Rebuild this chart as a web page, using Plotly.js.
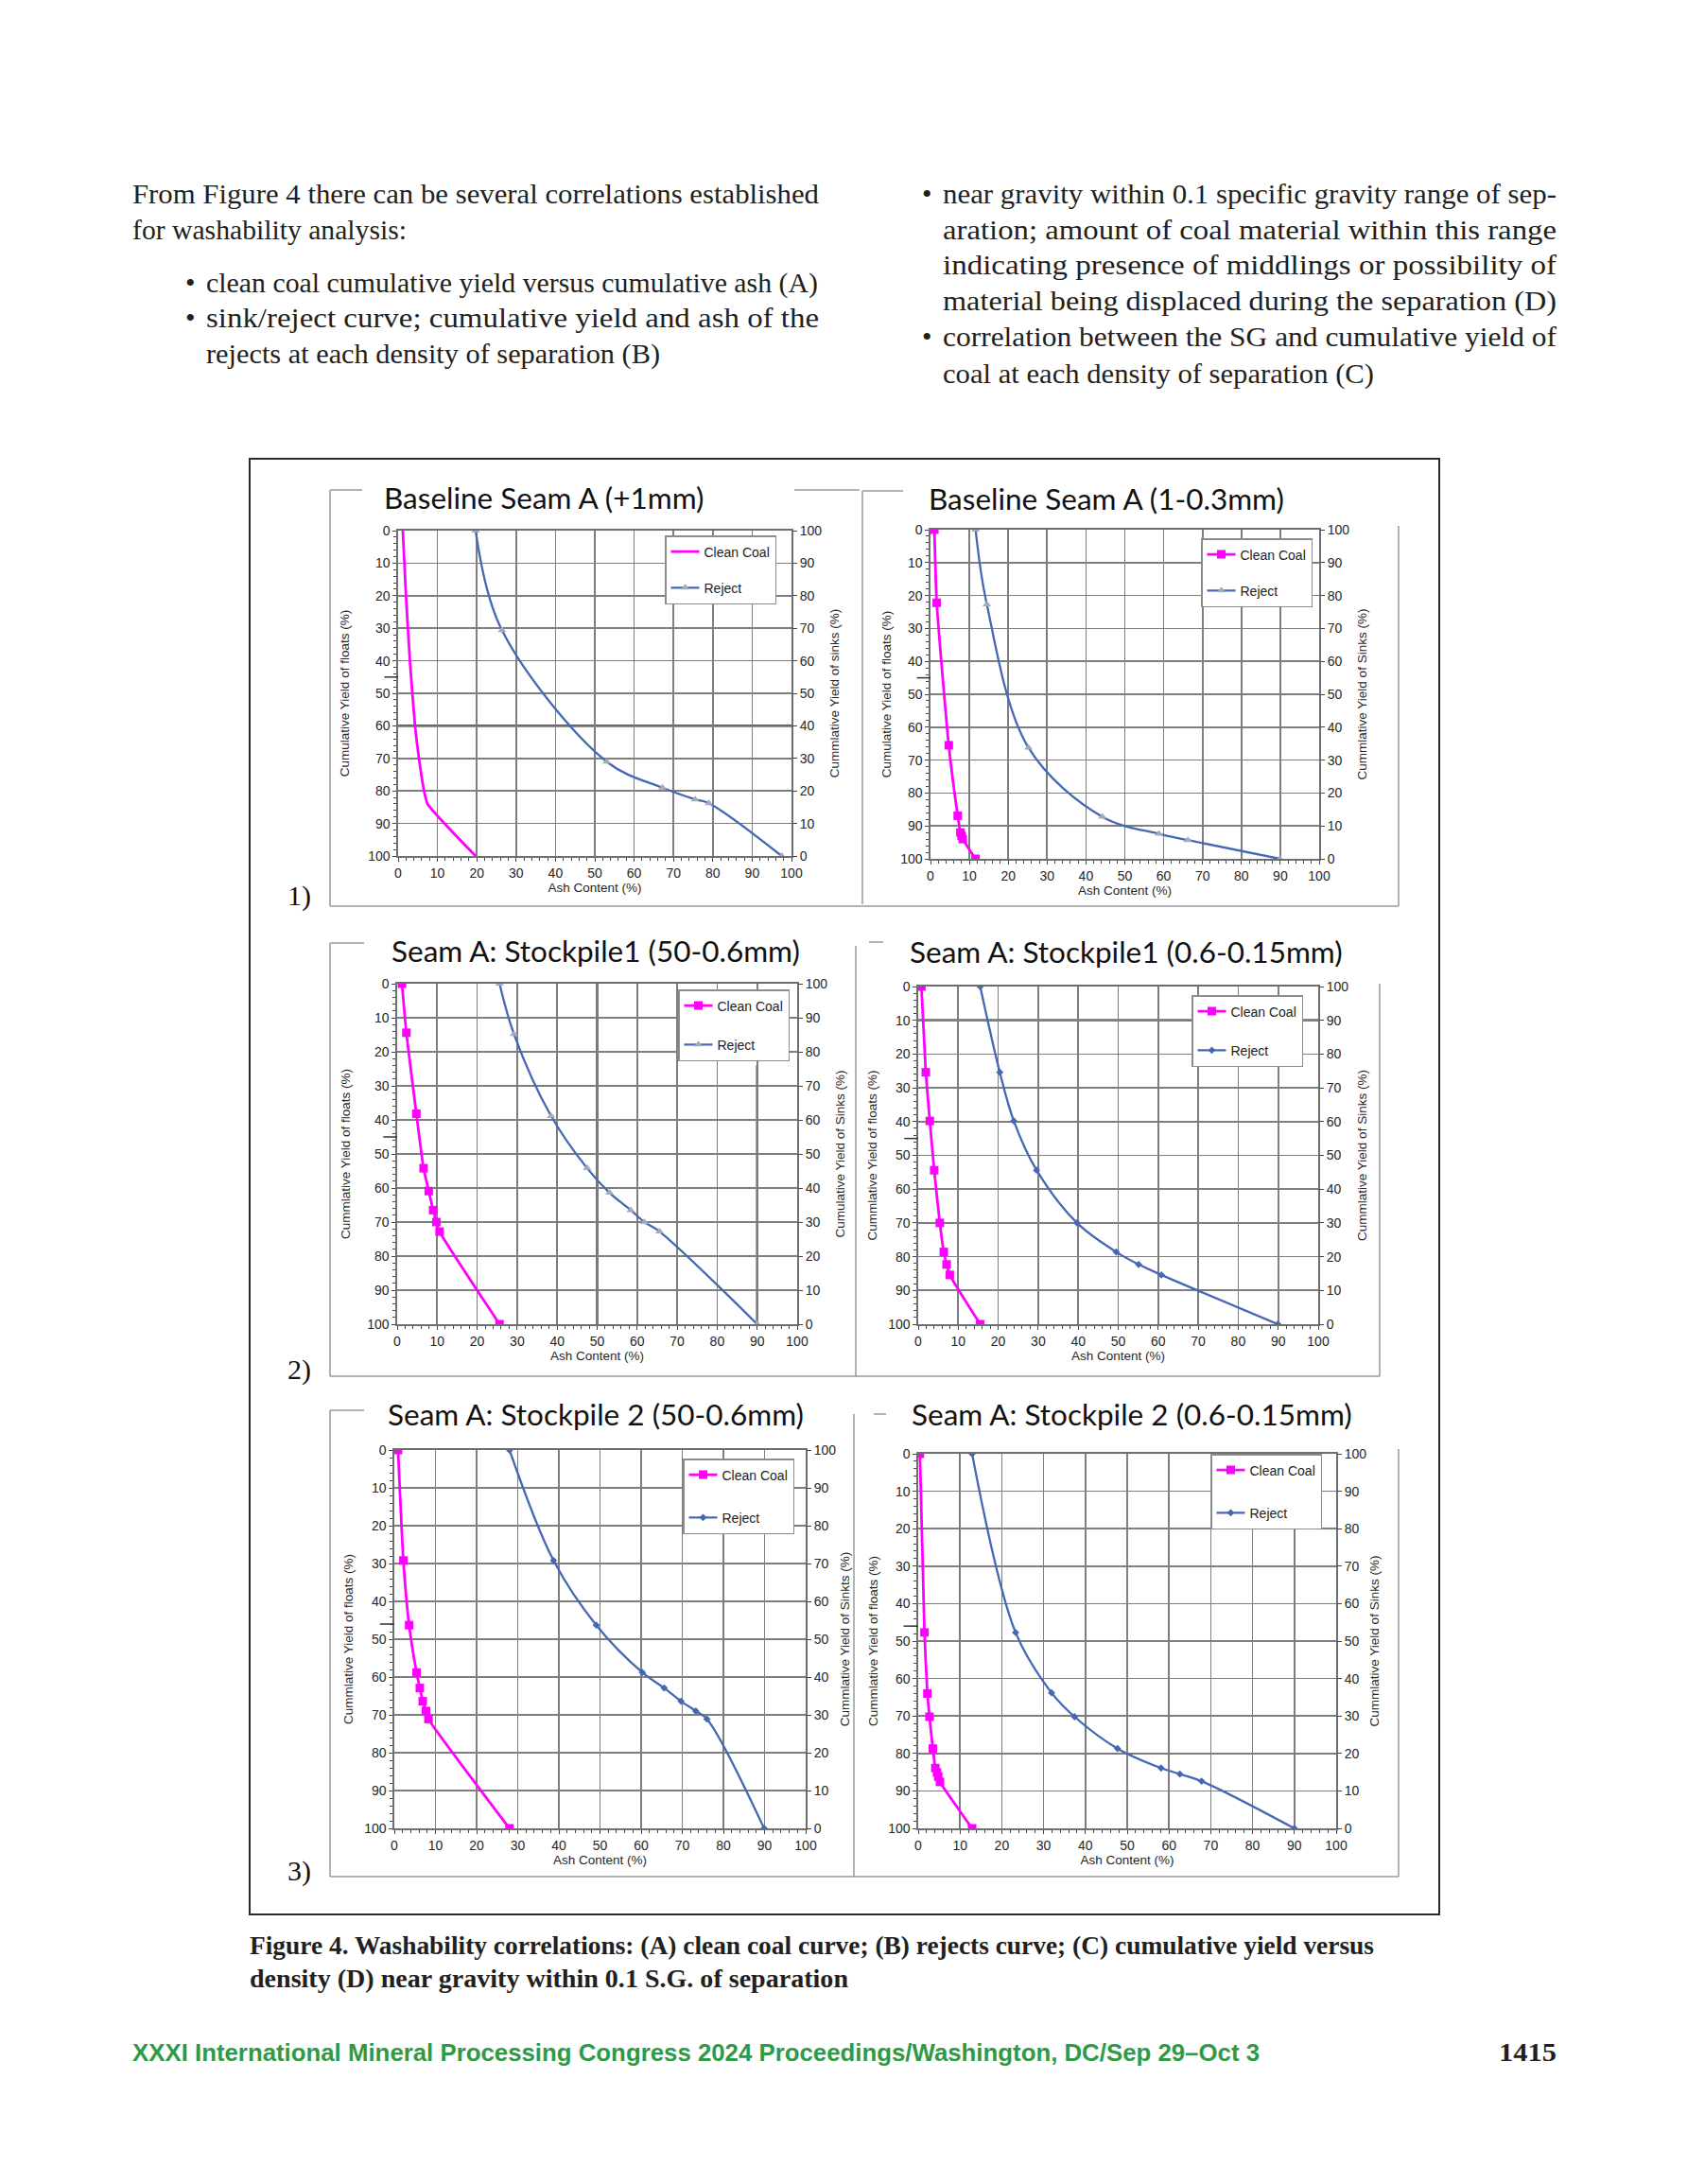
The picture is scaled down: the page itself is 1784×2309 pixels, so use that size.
<!DOCTYPE html>
<html>
<head>
<meta charset="utf-8">
<script src="https://cdn.plot.ly/plotly-3.0.1.min.js"></script>
<style>
html,body{margin:0;padding:0;background:#fff;}
#page{position:relative;width:1784px;height:2309px;overflow:hidden;background:#fff;}
#chart{position:absolute;left:0;top:0;width:1784px;height:2309px;}
.body{position:absolute;white-space:nowrap;font-family:"Liberation Serif",serif;font-size:30px;line-height:38px;color:#231f20;}
.cap{position:absolute;white-space:nowrap;font-family:"Liberation Serif",serif;font-weight:bold;font-size:27px;line-height:35px;color:#231f20;}
.foot{position:absolute;white-space:nowrap;font-family:"Liberation Sans",sans-serif;font-weight:bold;font-size:25px;line-height:30px;color:#2f9a46;}
.pnum{position:absolute;white-space:nowrap;font-family:"Liberation Serif",serif;font-weight:bold;font-size:28px;line-height:30px;color:#231f20;}
</style>
</head>
<body>
<div id="page"><div id="chart"></div></div>
<script>
// ---------------- DATA ----------------
const plotTitles = [
  "Baseline Seam A (+1mm)",
  "Baseline Seam A (1-0.3mm)",
  "Seam A: Stockpile1 (50-0.6mm)",
  "Seam A: Stockpile1 (0.6-0.15mm)",
  "Seam A: Stockpile 2 (50-0.6mm)",
  "Seam A: Stockpile 2 (0.6-0.15mm)"
];
const leftAxisTitles = [
  "Cumulative Yield of floats (%)",
  "Cumulative Yield of floats (%)",
  "Cummlative Yield of floats (%)",
  "Cummlative Yield of floats (%)",
  "Cummlative Yield of floats (%)",
  "Cummlative Yield of floats (%)"
];
const rightAxisTitles = [
  "Cummlative Yield of sinks (%)",
  "Cummlative Yield of Sinks (%)",
  "Cumulative Yield of Sinks (%)",
  "Cummlative Yield of Sinks (%)",
  "Cummlative Yield of Sinkts (%)",
  "Cummlative Yield of Sinks (%)"
];
const xAxisTitle = "Ash Content (%)";
const seriesNames = ["Clean Coal", "Reject"];
const rowLabels = ["1)", "2)", "3)"];

// Plot 1: Baseline Seam A (+1mm)
const p1CleanAsh   = [1.2, 2.0, 3.0, 4.3, 5.3, 6.6, 7.5, 19.7];
const p1CleanYield = [0, 20, 40, 60, 70, 80, 84, 100];
const p1RejectAsh  = [19.7, 26.4, 53.0, 67.2, 75.5, 79.0, 97.5];
const p1RejectSinks= [100, 69.4, 29.0, 21.0, 17.4, 16.2, 0];

// Plot 2: Baseline Seam A (1-0.3mm)
const p2CleanAsh   = [1.0, 1.6, 4.7, 7.0, 7.7, 8.0, 8.3, 11.6];
const p2CleanYield = [0, 22.2, 65.5, 86.9, 92.0, 93.0, 94.0, 100];
const p2RejectAsh  = [11.6, 14.5, 25.2, 44.2, 58.8, 66.2, 89.9];
const p2RejectSinks= [100, 77.3, 33.8, 12.8, 7.6, 5.7, 0];

// Plot 3: Seam A: Stockpile1 (50-0.6mm)
const p3CleanAsh   = [1.2, 2.3, 4.8, 6.6, 7.9, 9.0, 9.8, 10.6, 25.6];
const p3CleanYield = [0, 14.4, 38.2, 54.2, 60.9, 66.5, 70.0, 72.8, 100];
const p3RejectAsh  = [25.6, 29.2, 38.5, 47.5, 53.1, 58.4, 61.8, 65.6, 90.0];
const p3RejectSinks= [100, 85.2, 61.1, 45.8, 38.6, 33.5, 30.0, 27.2, 0];

// Plot 4: Seam A: Stockpile1 (0.6-0.15mm)
const p4CleanAsh   = [0.8, 1.9, 2.9, 4.0, 5.4, 6.4, 7.1, 7.9, 15.5];
const p4CleanYield = [0, 25.4, 39.8, 54.4, 70.0, 78.6, 82.3, 85.4, 100];
const p4RejectAsh  = [15.5, 20.4, 23.9, 29.6, 39.7, 49.5, 55.1, 60.8, 89.9];
const p4RejectSinks= [100, 74.6, 60.2, 45.6, 30.0, 21.4, 17.7, 14.6, 0];

// Plot 5: Seam A: Stockpile 2 (50-0.6mm)
const p5CleanAsh   = [0.9, 2.2, 3.6, 5.4, 6.2, 6.9, 7.7, 8.3, 28.0];
const p5CleanYield = [0, 29.2, 46.3, 58.8, 62.9, 66.4, 69.0, 71.1, 100];
const p5RejectAsh  = [28.0, 38.7, 49.1, 60.3, 65.6, 69.7, 73.3, 76.0, 89.9];
const p5RejectSinks= [100, 70.8, 53.7, 41.2, 37.1, 33.6, 31.0, 28.9, 0];

// Plot 6: Seam A: Stockpile 2 (0.6-0.15mm)
const p6CleanAsh   = [0.4, 1.5, 2.2, 2.7, 3.5, 4.1, 4.5, 4.8, 5.2, 12.9];
const p6CleanYield = [0, 47.7, 64.0, 70.2, 78.7, 83.9, 85.1, 86.2, 87.6, 100];
const p6RejectAsh  = [12.9, 23.3, 31.9, 37.4, 47.7, 58.1, 62.6, 67.8, 90.0];
const p6RejectSinks= [100, 52.3, 36.2, 29.8, 21.3, 16.1, 14.5, 12.6, 0];

const cleanAsh   = [p1CleanAsh, p2CleanAsh, p3CleanAsh, p4CleanAsh, p5CleanAsh, p6CleanAsh];
const cleanYield = [p1CleanYield, p2CleanYield, p3CleanYield, p4CleanYield, p5CleanYield, p6CleanYield];
const rejectAsh  = [p1RejectAsh, p2RejectAsh, p3RejectAsh, p4RejectAsh, p5RejectAsh, p6RejectAsh];
const rejectSinks= [p1RejectSinks, p2RejectSinks, p3RejectSinks, p4RejectSinks, p5RejectSinks, p6RejectSinks];

// ---------------- PAGE TEXT ----------------
const page = document.getElementById('page');
const bodyLines = [
  {t:'From Figure 4 there can be several correlations established', x:140, y:205, w:726},
  {t:'for washability analysis:', x:140, y:243, w:290},
  {t:'clean coal cumulative yield versus cumulative ash (A)', x:218, y:299, w:647, b:196},
  {t:'sink/reject curve; cumulative yield and ash of the', x:218, y:336, w:648, b:196},
  {t:'rejects at each density of separation (B)', x:218, y:374, w:480},
  {t:'near gravity within 0.1 specific gravity range of sep-', x:997, y:205, w:649, b:975},
  {t:'aration; amount of coal material within this range', x:997, y:243, w:649},
  {t:'indicating presence of middlings or possibility of', x:997, y:280, w:649},
  {t:'material being displaced during the separation (D)', x:997, y:318, w:649},
  {t:'correlation between the SG and cumulative yield of', x:997, y:356, w:649, b:975},
  {t:'coal at each density of separation (C)', x:997, y:395, w:456}
];
const capLines = [
  {t:'Figure 4. Washability correlations: (A) clean coal curve; (B) rejects curve; (C) cumulative yield versus', x:264, y:2057, w:1189},
  {t:'density (D) near gravity within 0.1 S.G. of separation', x:264, y:2092, w:633}
];
const footLines = [
  {t:'XXXI International Mineral Processing Congress 2024 Proceedings/Washington, DC/Sep 29\u2013Oct 3', x:140, y:2170, w:1192, cls:'foot', lh:30},
  {t:'1415', x:1585, y:2170, w:61, cls:'pnum', lh:30}
];

function place(spec, cls, lh) {
  const d = document.createElement('div');
  d.className = cls;
  d.textContent = spec.t;
  d.style.left = spec.x + 'px';
  d.style.top = (spec.y - lh / 2) + 'px';
  page.appendChild(d);
  const w = d.getBoundingClientRect().width;
  if (w > 0) {
    d.style.transformOrigin = '0 50%';
    d.style.transform = 'scaleX(' + (spec.w / w) + ')';
  }
  if (spec.b !== undefined) {
    const bu = document.createElement('div');
    bu.className = cls;
    bu.textContent = '\u2022';
    bu.style.left = spec.b + 'px';
    bu.style.top = (spec.y - lh / 2) + 'px';
    page.appendChild(bu);
  }
}
bodyLines.forEach(s => place(s, 'body', 38));
capLines.forEach(s => place(s, 'cap', 35));
footLines.forEach(s => place(s, s.cls, s.lh));

// ---------------- CHART LAYOUT / STYLE ----------------
const W = 1784, H = 2309;
const PX = v => v / W, PY = v => 1 - v / H;

const geom = [
  {x0:421, x1:837,  top:561,  bot:905,  leg:[703,566],  gap:17, title:[404,526],  lso:16, rso:9,  cleanMarkers:false, rejSym:'triangle-up'},
  {x0:984, x1:1395, top:560,  bot:908,  leg:[1270,569], gap:17, title:[980,527],  lso:6,  rso:9,  cleanMarkers:true,  rejSym:'triangle-up'},
  {x0:420, x1:843,  top:1040, bot:1400, leg:[717,1046], gap:20, title:[412,1005], lso:14, rso:9,  cleanMarkers:true,  rejSym:'triangle-up'},
  {x0:971, x1:1394, top:1043, bot:1400, leg:[1260,1052],gap:20, title:[960,1006], lso:8,  rso:10, cleanMarkers:true,  rejSym:'diamond'},
  {x0:417, x1:852,  top:1533, bot:1933, leg:[722,1542], gap:24, title:[408,1495], lso:8,  rso:5,  cleanMarkers:true,  rejSym:'diamond'},
  {x0:971, x1:1413, top:1537, bot:1933, leg:[1280,1537],gap:24, title:[962,1495], lso:7,  rso:4,  cleanMarkers:true,  rejSym:'diamond'}
];

const MAGENTA = '#ff00ff', BLUE = '#4468b4', TRI = '#a4abb8', GRID = '#7e7e7e';
const tickFont = {family:'Liberation Sans, Arial, sans-serif', size:14, color:'#262626'};
const axTitleFont = {family:'Liberation Sans, Arial, sans-serif', size:13.5, color:'#262626'};

const traces = [];
const layout = {
  width: W, height: H,
  margin: {l:0, r:0, t:0, b:0},
  paper_bgcolor: 'rgba(0,0,0,0)', plot_bgcolor: '#ffffff',
  showlegend: true,
  shapes: [], annotations: []
};

geom.forEach((g, k) => {
  const xn = k === 0 ? '' : String(k + 1);
  const yl = 2 * k + 1, yr = 2 * k + 2;
  const yln = yl === 1 ? '' : String(yl);
  const yrn = String(yr);
  const legName = k === 0 ? 'legend' : 'legend' + (k + 1);

  traces.push({
    type: 'scatter', name: seriesNames[0],
    x: cleanAsh[k], y: cleanYield[k],
    xaxis: 'x' + xn, yaxis: 'y' + yln,
    mode: g.cleanMarkers ? 'lines+markers' : 'lines',
    line: {color: MAGENTA, width: 2.8, shape: 'spline', smoothing: 0.5},
    marker: {symbol: 'square', size: 9, color: MAGENTA},
    legend: legName, legendgroup: 'c' + k
  });
  const diamond = g.rejSym === 'diamond';
  traces.push({
    type: 'scatter', name: seriesNames[1],
    x: rejectAsh[k], y: rejectSinks[k],
    xaxis: 'x' + xn, yaxis: 'y' + yrn,
    mode: 'lines+markers',
    line: {color: BLUE, width: 2.3, shape: 'spline', smoothing: 1},
    marker: {symbol: g.rejSym, size: diamond ? 6 : 8, color: diamond ? BLUE : TRI},
    legend: legName, legendgroup: 'r' + k
  });

  layout['xaxis' + xn] = {
    domain: [PX(g.x0), PX(g.x1)], anchor: 'y' + yln,
    range: [0, 100], tick0: 0, dtick: 10,
    showgrid: true, gridcolor: GRID, gridwidth: 1.7, zeroline: false,
    showline: true, linecolor: '#6e6e6e', linewidth: 1.7, mirror: true,
    ticks: 'outside', ticklen: 4, tickcolor: '#444',
    minor: {ticks: 'outside', dtick: 2, ticklen: 3, tickcolor: '#444', showgrid: false},
    tickfont: tickFont,
    title: {text: xAxisTitle, font: axTitleFont, standoff: 4}
  };
  layout['yaxis' + yln] = {
    domain: [PY(g.bot), PY(g.top)], anchor: 'x' + xn,
    range: [100, 0], tick0: 0, dtick: 10,
    showgrid: true, gridcolor: GRID, gridwidth: 1.7, zeroline: false,
    showline: true, linecolor: '#6e6e6e', linewidth: 1.7, mirror: true,
    ticks: 'outside', ticklen: 4, tickcolor: '#444',
    minor: {ticks: 'outside', dtick: 2, ticklen: 3, tickcolor: '#444', showgrid: false},
    tickfont: tickFont,
    title: {text: leftAxisTitles[k], font: axTitleFont, standoff: g.lso}
  };
  layout['yaxis' + yrn] = {
    overlaying: 'y' + yln, side: 'right', anchor: 'x' + xn,
    range: [0, 100], tick0: 0, dtick: 10,
    showgrid: false, zeroline: false, showline: false,
    ticks: 'outside', ticklen: 5, tickcolor: '#444',
    tickfont: tickFont,
    title: {text: rightAxisTitles[k], font: axTitleFont, standoff: g.rso}
  };
  layout[legName] = {
    x: PX(g.leg[0]), y: PY(g.leg[1]), xanchor: 'left', yanchor: 'top',
    bgcolor: '#ffffff', bordercolor: '#8c8c8c', borderwidth: 1.5,
    font: {family: 'Liberation Sans, Arial, sans-serif', size: 14, color: '#222'},
    traceorder: 'grouped', tracegroupgap: g.gap, itemwidth: 30
  };

  // subplot title
  layout.annotations.push({
    text: plotTitles[k], xref: 'paper', yref: 'paper',
    x: PX(g.title[0]), y: PY(g.title[1]), xanchor: 'left', yanchor: 'middle',
    showarrow: false, font: {family: 'Lato, "Open Sans", sans-serif', size: 31.5, color: '#111'}
  });
  // small mark on the left axis
  layout.shapes.push({type: 'line', xref: 'x' + xn + ' domain', yref: 'y' + yln,
    x0: -0.035, x1: 0, y0: k >= 4 ? 46 : 45, y1: k >= 4 ? 46 : 45,
    line: {color: '#333', width: 1.5}});
});

// darker grid accents seen in the scanned figure
const darkH = [[0, 60], [2, 90], [3, 10]];
darkH.forEach(([k, v]) => {
  const xn = k === 0 ? '' : String(k + 1), yl = 2 * k + 1, yln = yl === 1 ? '' : String(yl);
  layout.shapes.push({type: 'line', xref: 'x' + xn + ' domain', yref: 'y' + yln, x0: 0, x1: 1, y0: v, y1: v,
    line: {color: '#1a1a1a', width: 2.2}, layer: 'below'});
});
const darkV = [[2, 50, 0, 100], [2, 90, 24, 100]];
darkV.forEach(([k, v, a, b]) => {
  const xn = k === 0 ? '' : String(k + 1), yl = 2 * k + 1, yln = yl === 1 ? '' : String(yl);
  layout.shapes.push({type: 'line', xref: 'x' + xn, yref: 'y' + yln, x0: v, x1: v, y0: a, y1: b,
    line: {color: '#1a1a1a', width: 2.2}, layer: 'below'});
});

// chart-area border fragments of each panel (pixels)
const frameSegs = [
  [349,518,349,958],[349,518,383,518],[840,518,909,518],[349,958,1479,958],
  [912,519,912,956],[912,519,955,519],[1479,556,1479,958],
  [349,997,349,1455],[349,997,385,997],[349,1455,1459,1455],
  [905,1000,905,1455],[919,996,934,996],[1459,1040,1459,1455],
  [349,1491,349,1984],[349,1491,385,1491],[349,1984,1479,1984],
  [903,1495,903,1984],[924,1495,937,1495],[1479,1532,1479,1984]
];
frameSegs.forEach(s => layout.shapes.push({type: 'line', xref: 'paper', yref: 'paper',
  x0: PX(s[0]), y0: PY(s[1]), x1: PX(s[2]), y1: PY(s[3]), line: {color: '#9a9a9a', width: 1.5}}));

// outer figure frame
layout.shapes.push({type: 'rect', xref: 'paper', yref: 'paper',
  x0: PX(264), y0: PY(2024), x1: PX(1522), y1: PY(485), line: {color: '#2a2a2a', width: 2}});

// row labels
[[302, 947], [302, 1448], [302, 1978]].forEach((p, i) => layout.annotations.push({
  text: rowLabels[i], xref: 'paper', yref: 'paper', x: PX(p[0]), y: PY(p[1]),
  xanchor: 'left', yanchor: 'middle', showarrow: false,
  font: {family: 'Liberation Serif, serif', size: 30, color: '#111'}
}));

Plotly.newPlot('chart', traces, layout, {displayModeBar: false, staticPlot: true});
</script>
</body>
</html>
